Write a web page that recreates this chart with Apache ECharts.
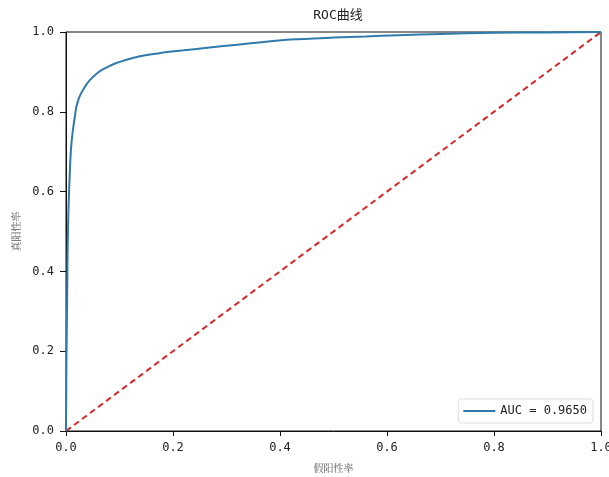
<!DOCTYPE html>
<html><head><meta charset="utf-8">
<script src="https://cdn.jsdelivr.net/npm/echarts@6/dist/echarts.min.js"></script>
<style>html,body{margin:0;padding:0;background:#fff}#c{width:609px;height:477px}</style>
</head><body><div id="c"></div>
<script>
const fpr = [0,0.0005,0.001,0.002,0.003,0.0045,0.006,0.0075,0.009,0.0105,0.0125,0.0145,0.0165,0.019,0.023,0.027,0.032,0.038,0.045,0.055,0.067,0.08,0.092,0.105,0.12,0.138,0.16,0.19,0.22,0.26,0.32,0.37,0.42,0.5,0.56,0.62,0.7,0.8,0.9,1];
const tpr = [0,0.1,0.2,0.31,0.45,0.55,0.61,0.66,0.7,0.725,0.75,0.77,0.787,0.81,0.83,0.843,0.855,0.868,0.88,0.893,0.905,0.914,0.921,0.927,0.933,0.939,0.944,0.95,0.954,0.96,0.968,0.975,0.981,0.986,0.989,0.992,0.995,0.998,0.999,1];
const diagX = [0,1];
const diagY = [0,1];
const aucLabel = 'AUC = 0.9650';
const titleText = 'ROC曲线';
const xName = '假阳性率';
const yName = '真阳性率';

const chart = echarts.init(document.getElementById('c'));
const mono = '"DejaVu Sans Mono", "Noto Sans CJK SC", monospace';
const serif = '"Noto Serif CJK SC","Noto Sans CJK SC",serif';
chart.setOption({
  animation:false,
  backgroundColor:'#fff',
  title:{text:titleText,left:333,top:4,textAlign:'center',textStyle:{fontSize:13,fontWeight:'normal',color:'#222',fontFamily:mono}},
  grid:{left:66,right:8,top:32,bottom:46,show:true,borderColor:'#111',borderWidth:1,outerBoundsMode:'none',containLabel:false},
  legend:{
    right:16,bottom:54,orient:'horizontal',
    backgroundColor:'#fff',borderColor:'#ddd',borderWidth:1,borderRadius:3,padding:[6,6,6,5],
    itemWidth:32,itemHeight:2,itemGap:12,
    textStyle:{fontSize:12,color:'#222',fontFamily:mono},
    data:[{name:aucLabel,icon:'rect'}]
  },
  xAxis:{type:'value',min:0,max:1,interval:0.2,
    name:xName,nameLocation:'middle',nameGap:32,nameTextStyle:{fontSize:10,color:'#555',fontFamily:serif},
    axisLine:{show:true,lineStyle:{color:'#111'}},
    axisTick:{show:true,length:5,lineStyle:{color:'#111'}},
    splitLine:{show:false},
    axisLabel:{fontSize:12,color:'#222',margin:11,fontFamily:mono,formatter:v=>v.toFixed(1)}},
  yAxis:{type:'value',min:0,max:1,interval:0.2,
    name:yName,nameLocation:'middle',nameGap:44,nameTextStyle:{fontSize:10,color:'#555',fontFamily:serif},
    axisLine:{show:true,lineStyle:{color:'#111'}},
    axisTick:{show:true,length:6,lineStyle:{color:'#111'}},
    splitLine:{show:false},
    axisLabel:{fontSize:12,color:'#222',margin:12,fontFamily:mono,formatter:v=>v.toFixed(1)}},
  series:[
    {name:aucLabel,type:'line',data:fpr.map((x,i)=>[x,tpr[i]]),showSymbol:false,smooth:0.3,
     lineStyle:{color:'#2f7bab',width:2},itemStyle:{color:'#2f7bab'},z:3},
    {name:'diag',type:'line',data:diagX.map((x,i)=>[x,diagY[i]]),showSymbol:false,
     lineStyle:{color:'#d62728',width:2,type:[6,4]},itemStyle:{color:'#d62728'},z:2}
  ]
});
</script></body></html>
